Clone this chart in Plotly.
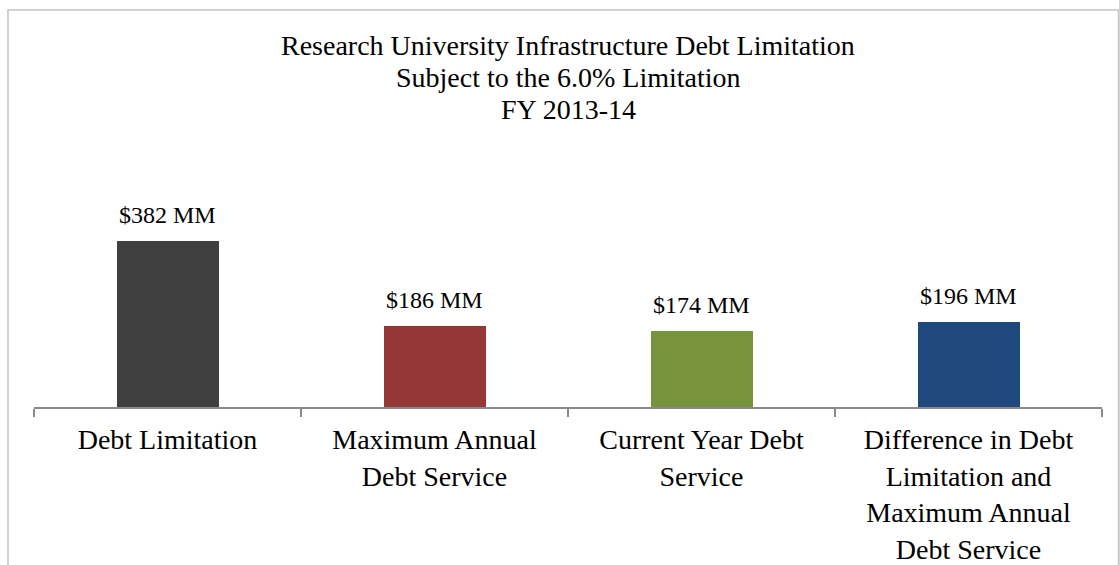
import plotly.graph_objects as go

categories = ["Debt Limitation", "Maximum Annual<br>Debt Service", "Current Year Debt<br>Service",
              "Difference in Debt<br>Limitation and<br>Maximum Annual<br>Debt Service"]
values = [382, 186, 174, 196]
labels = ["$382 MM", "$186 MM", "$174 MM", "$196 MM"]
colors = ["#3f3f3f", "#953735", "#77933c", "#1f497d"]
title_lines = ["Research University Infrastructure Debt Limitation",
               "Subject to the 6.0% Limitation", "FY 2013-14"]

W, H = 1119, 565
ml, mr, mb, mt = 34, 17, 158, 211
pw = W - ml - mr
ph = H - mt - mb
FONT = "Liberation Serif"

fig = go.Figure()
fig.add_trace(go.Bar(
    x=categories, y=values, marker=dict(color=colors, line=dict(width=0)),
    width=0.382, hoverinfo="skip",
))

def px_x(p):
    return (p - ml) / pw

def px_y(p):
    return (H - mb - p) / ph

# data labels
for c, v, t in zip(categories, values, labels):
    fig.add_annotation(x=c, y=v, xref="x", yref="y", text=t, showarrow=False,
                       yanchor="middle", yshift=26,
                       font=dict(family=FONT, size=24, color="#000000"))

# title lines
for i, line in enumerate(title_lines):
    fig.add_annotation(x=px_x(568), y=px_y(45 + 32 * i), xref="paper", yref="paper",
                       text=line, showarrow=False, xanchor="center", yanchor="middle",
                       font=dict(family=FONT, size=28, color="#000000"))

fig.add_shape(type="rect", xref="paper", yref="paper",
              x0=px_x(8), x1=px_x(1118.5), y0=px_y(580), y1=px_y(10),
              line=dict(color="#c4c4c4", width=1.5), fillcolor="rgba(0,0,0,0)", layer="below")

fig.update_layout(
    width=W, height=H,
    margin=dict(l=ml, r=mr, t=mt, b=mb, pad=0, autoexpand=False),
    paper_bgcolor="white", plot_bgcolor="white",
    showlegend=False,
    font=dict(family=FONT, color="#000000"),
    bargap=0,
)
fig.update_xaxes(
    showline=True, linecolor="#8a8a8a", linewidth=1.5,
    ticks="outside", tickson="boundaries", ticklen=8, tickcolor="#8a8a8a", tickwidth=1.5,
    tickfont=dict(family=FONT, size=28, color="#000000"), ticklabelstandoff=7,
    showgrid=False, zeroline=False, fixedrange=True, automargin=False,
)
fig.update_yaxes(range=[0, 450], visible=False, showgrid=False, zeroline=False,
                 fixedrange=True, automargin=False)

fig.write_html("out.html", config={"displayModeBar": False})
